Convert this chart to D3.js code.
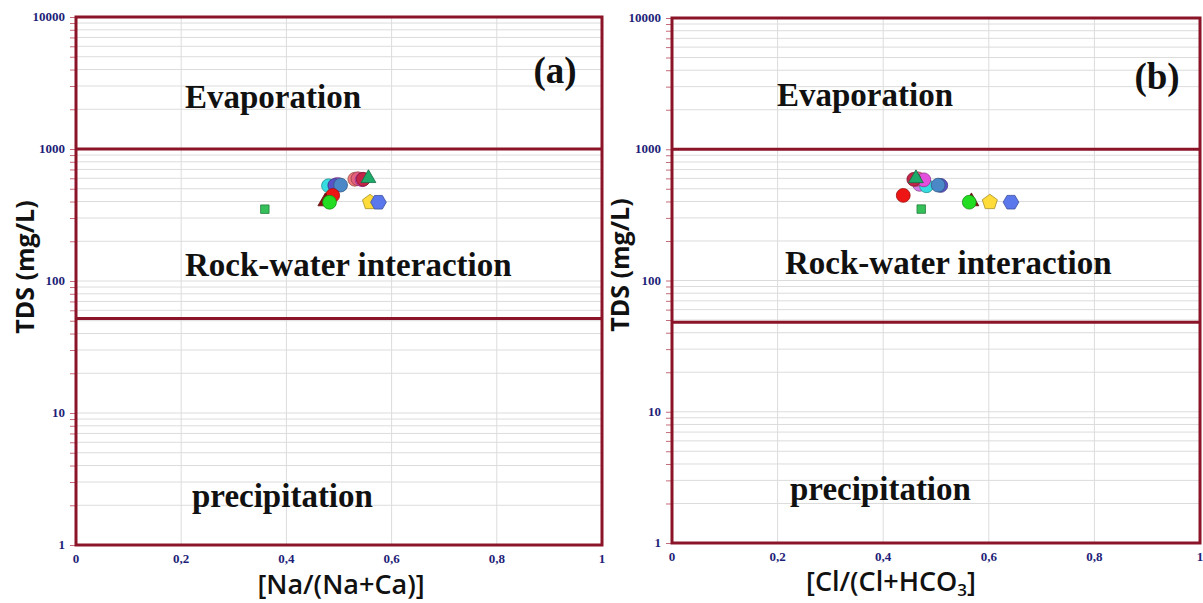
<!DOCTYPE html>
<html>
<head>
<meta charset="utf-8">
<script src="https://cdn.jsdelivr.net/npm/d3@7"></script>
<style>
  html, body { margin: 0; padding: 0; background: #fff; }
  svg { display: block; }
</style>
</head>
<body>
<svg id="chart" width="1203" height="603"></svg>
<script>
// Gibbs diagrams: TDS versus Na/(Na+Ca) and Cl/(Cl+HCO3)
const sampleIds   = ["S1","S2","S3","S4","S5","S6","S7","S8","S9","S10","S11","S12","S13","S14","S15"];
const tdsValues   = [540, 527, 530, 533, 445, 400, 395, 590, 595, 585, 590, 600, 395, 395, 350];
const naRatio     = [0.497, 0.480, 0.492, 0.503, 0.488, 0.474, 0.482, 0.530, 0.536, 0.544, 0.546, 0.556, 0.559, 0.575, 0.359];
const clRatio     = [0.469, 0.482, 0.509, 0.504, 0.438, 0.567, 0.563, 0.462, 0.466, 0.477, 0.458, 0.462, 0.602, 0.642, 0.472];
const markerShapes = ["circle","circle","circle","circle","circle","triangle","circle","circle","circle","circle","circle","triangle","pentagon","hexagon","square"];
const markerColors = ["#d477e4","#36dde0","#5a52c8","#4a88c8","#ee1515","#8a1010","#22dd22","#f07a78","#e35f7c","#e34fdc","#c42448","#1faa6a","#ffdc3a","#5a78ec","#35c05a"];

const yTickValues = [1, 10, 100, 1000, 10000];
const yTickLabels = ["1", "10", "100", "1000", "10000"];
const xTickValues = [0, 0.2, 0.4, 0.6, 0.8, 1];
const xTickLabels = ["0", "0,2", "0,4", "0,6", "0,8", "1"];
const zoneNames   = ["Evaporation", "Rock-water interaction", "precipitation"];
const zoneBoundsA = [52, 1000];
const zoneBoundsB = [48, 1000];

const frameColor = "#8b1428";
const tickColor  = "#1e1e78";
const gridColor  = "#dcdcdc";

const svg = d3.select("#chart");

// regular polygon symbol generator
function polygonSymbol(n) {
  return {
    draw(ctx, size) {
      const r = Math.sqrt(size / (n * 0.5 * Math.sin(2 * Math.PI / n)));
      for (let i = 0; i < n; i++) {
        const a = -Math.PI / 2 + i * 2 * Math.PI / n + (n === 6 ? Math.PI / 6 : 0);
        const x = r * Math.cos(a), y = r * Math.sin(a);
        if (i === 0) ctx.moveTo(x, y); else ctx.lineTo(x, y);
      }
      ctx.closePath();
    }
  };
}
const symbolTypes = {
  circle:   [d3.symbolCircle, 150],
  triangle: [d3.symbolTriangle, 95],
  square:   [d3.symbolSquare, 72],
  pentagon: [polygonSymbol(5), 150],
  hexagon:  [polygonSymbol(6), 160]
};

function drawPanel(cfg) {
  const x = d3.scaleLinear().domain([0, 1]).range([cfg.x0, cfg.x1]);
  const y = d3.scaleLog().domain([1, 10000]).range([cfg.y1, cfg.y0]);
  const g = svg.append("g");

  // minor log positions
  const minor = [];
  for (let d = 1; d < 10000; d *= 10)
    for (let k = 1; k <= 9; k++) minor.push(d * k);
  minor.push(10000);

  // horizontal grid
  g.append("g").selectAll("line").data(minor).join("line")
    .attr("x1", cfg.x0).attr("x2", cfg.x1)
    .attr("y1", d => y(d)).attr("y2", d => y(d))
    .attr("stroke", gridColor).attr("stroke-width", 1);
  // vertical grid
  g.append("g").selectAll("line").data(xTickValues.slice(1, -1)).join("line")
    .attr("x1", d => x(d)).attr("x2", d => x(d))
    .attr("y1", cfg.y0).attr("y2", cfg.y1)
    .attr("stroke", gridColor).attr("stroke-width", 1);

  // y axis ticks (left of frame)
  const yAxis = d3.axisLeft(y).tickValues(minor).tickSize(6).tickFormat("");
  const ya = g.append("g").attr("transform", `translate(${cfg.x0},0)`).call(yAxis);
  ya.select(".domain").remove();
  ya.selectAll(".tick line").attr("stroke", "#c46a78").attr("stroke-width", 1);

  g.append("g").selectAll("text").data(yTickValues).join("text")
    .attr("x", cfg.x0 - 11).attr("y", d => y(d) + 4)
    .attr("text-anchor", "end")
    .attr("font-family", "Liberation Serif, serif").attr("font-weight", "bold")
    .attr("font-size", 13).attr("fill", tickColor)
    .text((d, i) => yTickLabels[i]);

  // x tick labels
  g.append("g").selectAll("text").data(xTickValues).join("text")
    .attr("x", d => x(d)).attr("y", cfg.y1 + 18)
    .attr("text-anchor", "middle")
    .attr("font-family", "Liberation Serif, serif").attr("font-weight", "bold")
    .attr("font-size", 13).attr("fill", tickColor)
    .text((d, i) => xTickLabels[i]);

  // zone boundaries and frame
  g.append("g").selectAll("line").data(cfg.bounds).join("line")
    .attr("x1", cfg.x0).attr("x2", cfg.x1)
    .attr("y1", d => y(d)).attr("y2", d => y(d))
    .attr("stroke", frameColor).attr("stroke-width", 3);
  g.append("rect")
    .attr("x", cfg.x0).attr("y", cfg.y0)
    .attr("width", cfg.x1 - cfg.x0).attr("height", cfg.y1 - cfg.y0)
    .attr("fill", "none").attr("stroke", frameColor).attr("stroke-width", 3);

  // zone names
  const zoneText = g.append("g")
    .attr("font-family", "Liberation Serif, serif").attr("font-weight", "bold")
    .attr("font-size", 33).attr("fill", "#111");
  cfg.zonePos.forEach((p, i) => {
    zoneText.append("text").attr("x", p[0]).attr("y", p[1]).text(zoneNames[i]);
  });
  g.append("text").attr("x", cfg.tagPos[0]).attr("y", cfg.tagPos[1])
    .attr("text-anchor", "middle")
    .attr("font-family", "Liberation Serif, serif").attr("font-weight", "bold")
    .attr("font-size", 37).attr("fill", "#111").text(cfg.tag);

  // samples
  g.append("g").selectAll("path").data(sampleIds).join("path")
    .attr("transform", (d, i) => `translate(${x(cfg.ratio[i])},${y(tdsValues[i])})`)
    .attr("d", (d, i) => {
      const [type, size] = symbolTypes[markerShapes[i]];
      return d3.symbol().type(type).size(size)();
    })
    .attr("fill", (d, i) => markerColors[i])
    .attr("stroke", (d, i) => d3.color(markerColors[i]).darker(1.2))
    .attr("stroke-width", 0.8);

  // axis titles
  g.append("text")
    .attr("transform", `translate(${cfg.yTitleX},${cfg.yTitleY}) rotate(-90)`)
    .attr("text-anchor", "middle")
    .attr("font-family", "Open Sans, sans-serif").attr("font-weight", "bold")
    .attr("font-size", 25).attr("fill", "#111").text("TDS (mg/L)");

  const xt = g.append("text")
    .attr("x", cfg.xTitleX).attr("y", cfg.xTitleY)
    .attr("text-anchor", "middle")
    .attr("font-family", "Open Sans, sans-serif").attr("font-weight", 600)
    .attr("font-size", 27).attr("fill", "#111");
  cfg.xTitle.forEach(part => {
    const ts = xt.append("tspan").text(part.t);
    if (part.sub) ts.attr("font-size", 17).attr("dy", 5);
    else if (part.after) ts.attr("dy", -5);
  });
}

drawPanel({
  x0: 76, x1: 602, y0: 17, y1: 545,
  bounds: zoneBoundsA, ratio: naRatio, tag: "(a)", tagPos: [555, 83],
  zonePos: [[185, 108], [185, 276], [192, 507]],
  yTitleX: 34, yTitleY: 267, xTitleX: 341, xTitleY: 594,
  xTitle: [{t: "[Na/(Na+Ca)]"}]
});
drawPanel({
  x0: 672, x1: 1200, y0: 18, y1: 543,
  bounds: zoneBoundsB, ratio: clRatio, tag: "(b)", tagPos: [1157, 89],
  zonePos: [[777, 106], [785, 274], [790, 500]],
  yTitleX: 629, yTitleY: 265, xTitleX: 891, xTitleY: 591,
  xTitle: [{t: "[Cl/(Cl+HCO"}, {t: "3", sub: true}, {t: "]", after: true}]
});
</script>
</body>
</html>
